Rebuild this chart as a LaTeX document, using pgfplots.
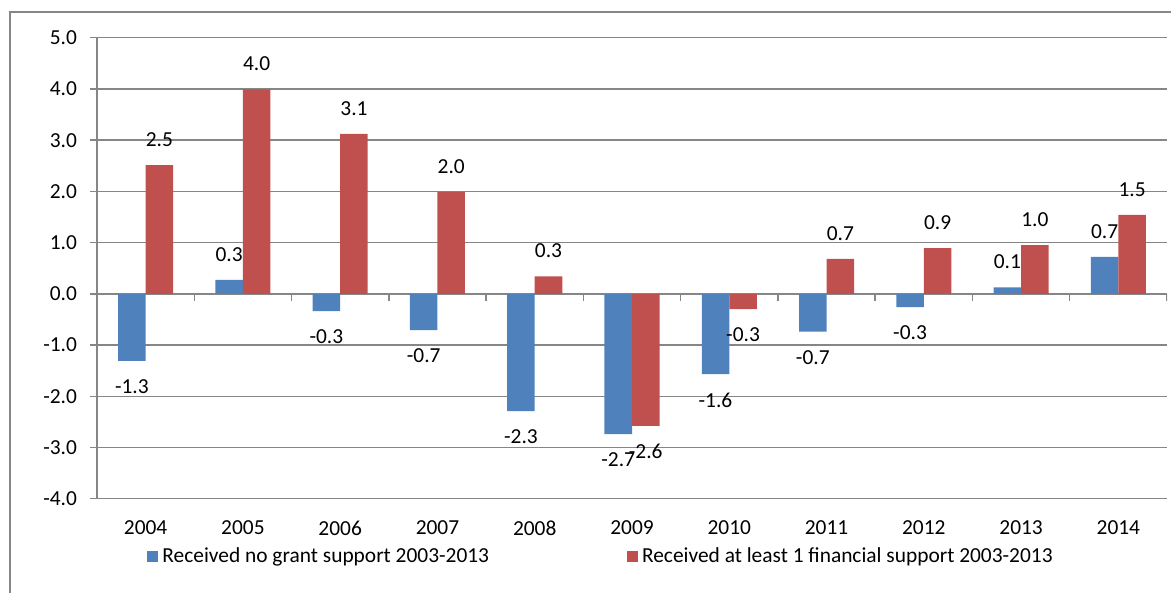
\documentclass[border=0pt]{standalone}
\usepackage{pgfplots}
\usepackage{pgfplotstable}
\pgfplotsset{compat=1.18}
\usepackage{fontspec}
\setmainfont{Carlito}
\definecolor{gridgray}{RGB}{134,134,134}
\definecolor{xlblue}{RGB}{79,129,189}
\definecolor{xlred}{RGB}{192,80,77}

\pgfplotstableread{
x y
0 -1.31
1 0.27
2 -0.34
3 -0.71
4 -2.29
5 -2.74
6 -1.57
7 -0.74
8 -0.26
9 0.125
10 0.72
}\bluedata

\pgfplotstableread{
x y
0 2.51
1 3.99
2 3.12
3 1.99
4 0.34
5 -2.58
6 -0.30
7 0.68
8 0.89
9 0.95
10 1.54
}\reddata

\begin{document}
\begin{tikzpicture}
\useasboundingbox (-48.5pt,-47pt) rectangle (537pt,249.35pt);
\draw[gridgray, line width=0.75pt] (-43.5pt,-60pt) |- (600pt,243.35pt);
\begin{axis}[
  scale only axis, width=535pt, height=230.5pt,
  xmin=-0.5, xmax=10.5, ymin=-4, ymax=5,
  axis lines*=left,
  axis line style={gridgray, line width=0.75pt},
  ymajorgrids, grid style={gridgray, line width=0.75pt},
  ytick={-4,-3,-2,-1,0,1,2,3,4,5},
  xtick={0,1,2,3,4,5,6,7,8,9,10},
  xticklabels={2004,2005,2006,2007,2008,2009,2010,2011,2012,2013,2014},
  font=\fontsize{10.7}{12}\selectfont,
  tick align=outside, major tick length=3.5pt,
  ytick style={gridgray, line width=0.75pt},
  xtick style={draw=none},
  yticklabel={\pgfmathprintnumber[fixed,fixed zerofill,precision=1,assume math mode=true]{\tick}},
  yticklabel style={xshift=-3pt},
  xticklabel style={yshift=-4pt},
  ybar, bar width=0.283,
  point meta=y,
  nodes near coords={\pgfmathprintnumber[fixed,fixed zerofill,precision=1,assume math mode=true]{\pgfplotspointmeta}},
  every node near coord/.append style={font=\fontsize{10.7}{12}\selectfont, inner ysep=9pt, text=black},
  legend columns=2,
  legend style={draw=none, fill=none, at={(0.472,-0.126)}, anchor=center, font=\fontsize{10.7}{12}\selectfont,
    /tikz/every even column/.append style={column sep=67pt}},
  legend image code/.code={\fill[#1] (0pt,-2.75pt) rectangle (5.5pt,2.75pt);},
]
\addplot[fill=xlblue, draw=none, bar shift=-0.1415] table[x=x,y=y]{\bluedata};
\addplot[fill=xlred, draw=none, bar shift=0.1415] table[x=x,y=y]{\reddata};
\legend{Received no grant support 2003-2013, Received at least 1 financial support 2003-2013}
\pgfplotsinvokeforeach{-0.5,0.5,1.5,2.5,3.5,4.5,5.5,6.5,7.5,8.5,9.5,10.5}{
  \draw[gridgray, line width=0.75pt] (axis cs:#1,0) -- ([yshift=-3.5pt]axis cs:#1,0);
}
\end{axis}
\end{tikzpicture}
\end{document}
